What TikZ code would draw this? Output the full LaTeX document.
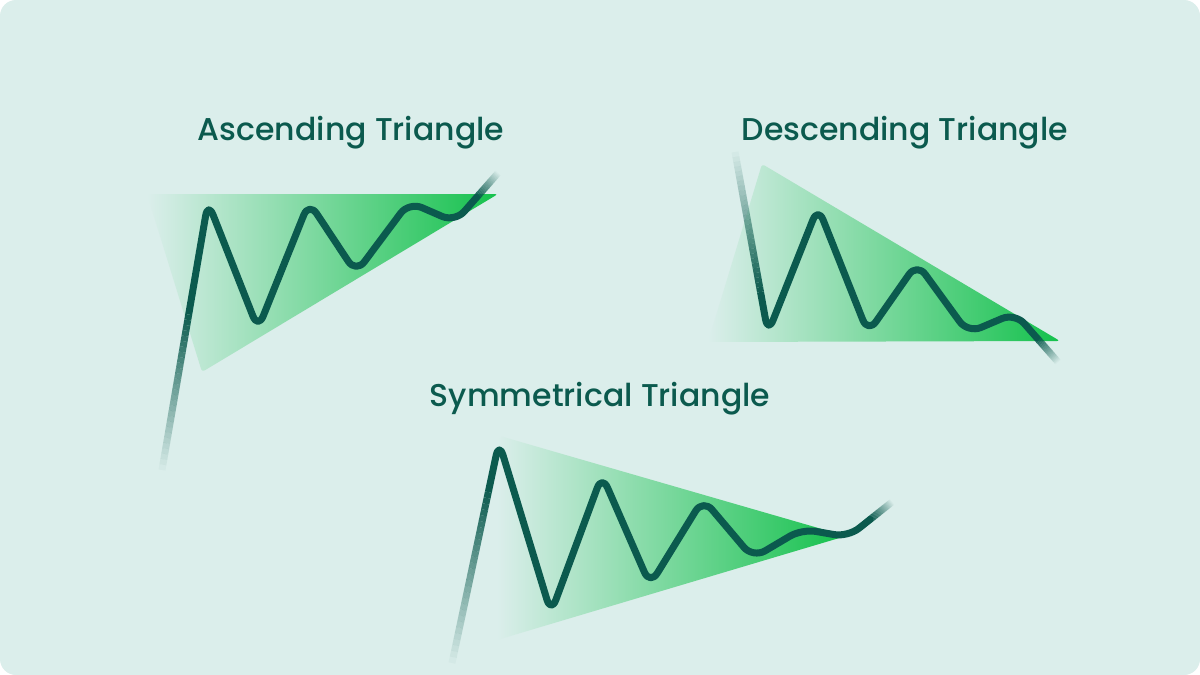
\documentclass[tikz,border=0pt]{standalone}
\usepackage{fontspec}
\setmainfont{Poppins}[UprightFont=* Medium]
\usetikzlibrary{calc}
\definecolor{bgmint}{HTML}{DBEEEB}
\definecolor{inkgreen}{HTML}{0B5A4E}
\definecolor{brightgreen}{HTML}{14C14C}
\tikzset{
  trend/.style={line width=7pt, draw=inkgreen, line cap=round, line join=round, rounded corners=14pt},
  wedge/.style={left color=bgmint, right color=brightgreen, rounded corners=3pt},
  title/.style={text=inkgreen, font=\fontsize{31.5}{36}\selectfont}
}
% tail of a trend line: transparent at #1, opaque at #2
\newcommand{\fadetail}[2]{%
  \foreach \k in {0,...,29}{
    \pgfmathsetmacro{\ta}{\k/30}
    \pgfmathsetmacro{\tb}{(\k+1)/30}
    \draw[trend, line cap=butt, rounded corners=0pt, draw opacity=\tb] ($(#1)!\ta!(#2)$) -- ($(#1)!\tb!(#2)$);
  }}
\begin{document}
\begin{tikzpicture}[x=1pt, y=-1pt]
  \useasboundingbox (0,0) rectangle (1200,675);
  \fill[white] (0,0) rectangle (1200,675);
  \fill[bgmint, rounded corners=16pt] (0,0) rectangle (1200,675);

  % ascending
  \node[title] (asc) at (351,133) {Ascending Triangle};
  \shade[wedge] (147,194) -- (498,194) -- (202,372) -- cycle;
  \coordinate (a0) at (162,470);
  \coordinate (ap1) at (208,202);
  \coordinate (at3) at (455,222);
  \coordinate (a9) at (498,173);
  \coordinate (a1) at ($(a0)!0.6!(ap1)$);
  \coordinate (a8) at ($(a9)!0.5!(at3)$);
  \fadetail{a0}{a1}
  \draw[trend] (a1) -- (ap1) -- (258,329) -- (309,202) -- (356,273) -- (409,202) -- (at3) -- (a8);
  \fadetail{a9}{a8}

  % descending
  \node[title] (desc) at (905,133) {Descending Triangle};
  \shade[wedge] (762,164) -- (1060,341) -- (708,342) -- cycle;
  \coordinate (d0) at (735,152);
  \coordinate (dt1) at (768,333);
  \coordinate (dp3) at (1015,313);
  \coordinate (d9) at (1058,362);
  \coordinate (d1) at ($(d0)!0.8!(dt1)$);
  \coordinate (d8) at ($(d9)!0.5!(dp3)$);
  \fadetail{d0}{d1}
  \draw[trend] (d1) -- (dt1) -- (818,207) -- (868,333) -- (917,263) -- (968,333) -- (dp3) -- (d8);
  \fadetail{d9}{d8}

  % symmetrical
  \node[title] (sym) at (600,399) {Symmetrical Triangle};
  \shade[wedge] (500,436) -- (846,536) -- (497,640) -- cycle;
  \coordinate (s0) at (452,663);
  \coordinate (sp1) at (499,442);
  \coordinate (st4) at (848,537);
  \coordinate (s9) at (892,502);
  \coordinate (s1) at ($(s0)!0.8!(sp1)$);
  \coordinate (s8) at ($(s9)!0.5!(st4)$);
  \fadetail{s0}{s1}
  \draw[trend] (s1) -- (sp1) -- (551,613) -- (602,475) -- (650,585) -- (703,499) -- (753,558) -- (802,529) -- (st4) -- (s8);
  \fadetail{s9}{s8}
\end{tikzpicture}
\end{document}
